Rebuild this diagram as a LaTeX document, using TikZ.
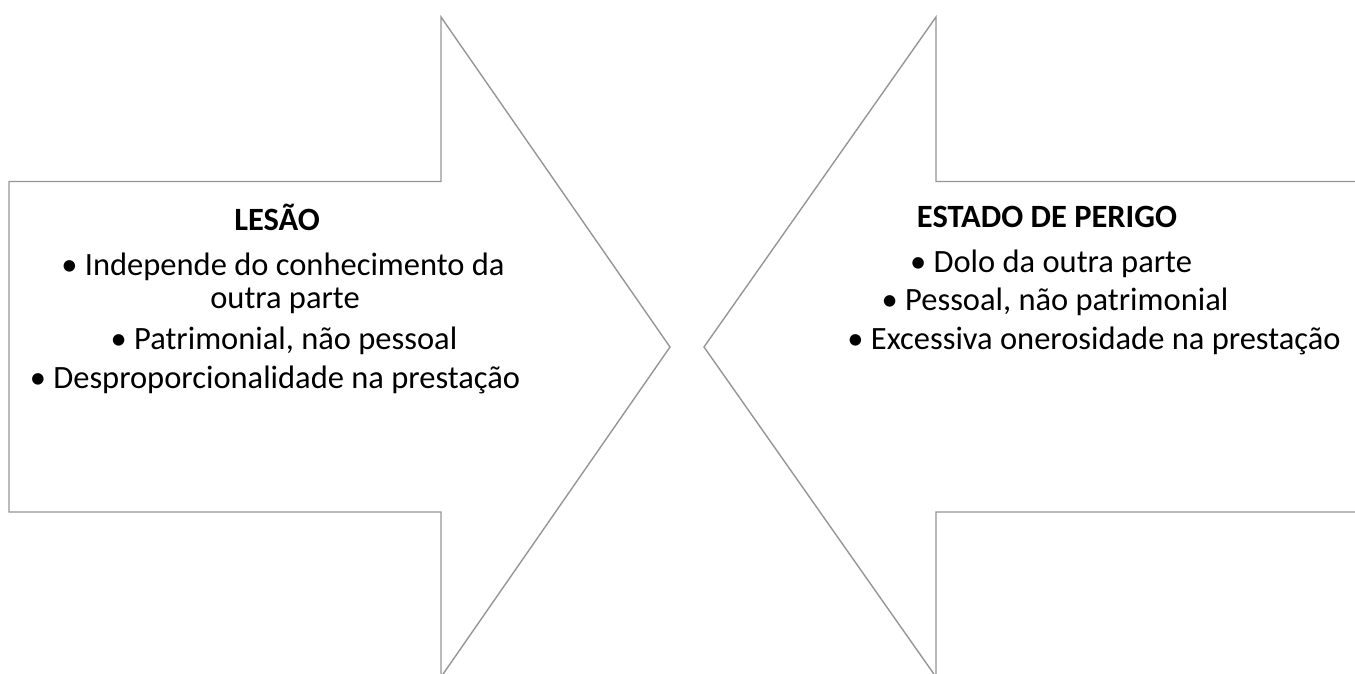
\documentclass[tikz,border=0pt]{standalone}
\usepackage{fontspec}
\setmainfont{Carlito}
\definecolor{arrowgray}{RGB}{150,150,150}
\tikzset{
  seta/.style={draw=arrowgray,line width=1.4pt,fill=white},
  titulo/.style={font=\fontsize{32.5}{38}\selectfont\bfseries,inner sep=0pt},
  item/.style={font=\fontsize{32.5}{38}\selectfont,inner sep=0pt},
}
\begin{document}
\begin{tikzpicture}[x=1pt,y=-1pt]
    \useasboundingbox (0,0) rectangle (1355,673);
    \clip (0,0) rectangle (1355,673);
    \draw[seta](9,181.5) -- (441,181.5) -- (441,17) -- (670,347)
    -- (441,677) -- (441,512) -- (9,512) --cycle;
    \draw[seta](1380,181.5) -- (936,181.5) -- (936,17) -- (704,347)
    -- (936,677) -- (936,512) -- (1380,512) --cycle;
    \node[titulo] (lesao) at (277,217) {LESÃO};
    \node[item] (l1) at (283,267) {• Independe do conhecimento da};
    \node[item] (l2) at (285,301) {outra parte};
    \node[item] (l3) at (284,341) {• Patrimonial, não pessoal};
    \node[item] (l4) at (275,380) {• Desproporcionalidade na prestação};
    \node[titulo] (perigo) at (1047,217) {ESTADO DE PERIGO};
    \node[item] (p1) at (1051,264) {• Dolo da outra parte};
    \node[item] (p2) at (1055,302) {• Pessoal, não patrimonial};
    \node[item] (p3) at (1094,341) {• Excessiva onerosidade na prestação};
  \end{tikzpicture}
\end{document}
